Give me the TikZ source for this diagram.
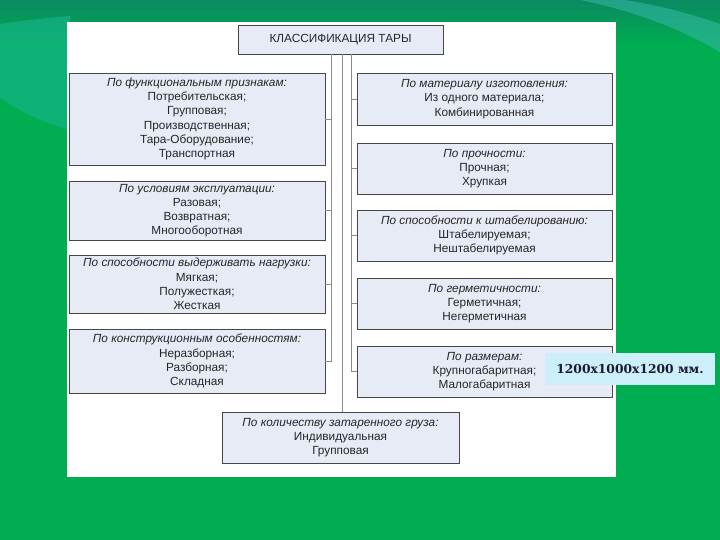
\documentclass[tikz,border=0pt]{standalone}
\usepackage{fontspec}
\setmainfont{Liberation Sans}
\newfontfamily\calloutfont{DejaVu Serif}
\definecolor{bggreen}{HTML}{00AD50}
\definecolor{topdark}{HTML}{0A8A62}
\definecolor{tealA}{HTML}{18B590}
\definecolor{tealB}{HTML}{3CBAB2}
\definecolor{boxfill}{HTML}{E7EBF5}
\definecolor{callout}{HTML}{CDEFFA}
\definecolor{linegray}{HTML}{8C8C8C}
\definecolor{callouttext}{HTML}{1A1A30}
\begin{document}
\begin{tikzpicture}[x=1pt,y=-1pt,
  box/.style={draw=black!72, line width=0.9pt, fill=boxfill, align=center,
    inner sep=0pt, text=black!85, font=\fontsize{11.8}{14.2}\selectfont},
  conn/.style={draw=linegray, line width=0.9pt},
  calloutbox/.style={fill=callout, inner sep=0pt, text=callouttext,
    font=\calloutfont\bfseries\fontsize{12.3}{14}\selectfont}]
\useasboundingbox (0,0) rectangle (720,540);
% background
\fill[bggreen] (0,0) rectangle (720,540);
\shade[top color=topdark, bottom color=bggreen] (0,0) rectangle (720,45);
\fill[tealA, opacity=0.6] (0,24) .. controls (20,21) and (45,18) .. (70,16)
  -- (70,130) .. controls (40,122) and (18,110) .. (0,98) -- cycle;
\fill[tealB, opacity=0.5] (580,0) .. controls (630,10) and (680,28) .. (720,52)
  -- (720,24) .. controls (680,10) and (645,3) .. (625,0) -- cycle;
% white panel
\fill[white] (67,22) rectangle (616,477);

% title
\node[box, minimum width=205, minimum height=29] (title) at (340.5,39.5) {КЛАССИФИКАЦИЯ ТАРЫ};

% left column
\node[box, minimum width=256, minimum height=92] (L1) at (197,119)
  {\textit{По функциональным признакам:}\\Потребительская;\\Групповая;\\Производственная;\\Тара-Оборудование;\\Транспортная};
\node[box, minimum width=256, minimum height=59] (L2) at (197,210.5)
  {\textit{По условиям эксплуатации:}\\Разовая;\\Возвратная;\\Многооборотная};
\node[box, minimum width=256, minimum height=58] (L3) at (197,284)
  {\textit{По способности выдерживать нагрузки:}\\Мягкая;\\Полужесткая;\\Жесткая};
\node[box, minimum width=256, minimum height=64] (L4) at (197,361)
  {\textit{По конструкционным особенностям:}\\Неразборная;\\Разборная;\\Складная};

% right column
\node[box, minimum width=255, minimum height=52] (R1) at (484.5,99)
  {\textit{По материалу изготовления:}\\Из одного материала;\\Комбинированная};
\node[box, minimum width=255, minimum height=51] (R2) at (484.5,168.5)
  {\textit{По прочности:}\\Прочная;\\Хрупкая};
\node[box, minimum width=255, minimum height=51] (R3) at (484.5,235.5)
  {\textit{По способности к штабелированию:}\\Штабелируемая;\\Нештабелируемая};
\node[box, minimum width=255, minimum height=51] (R4) at (484.5,303.5)
  {\textit{По герметичности:}\\Герметичная;\\Негерметичная};
\node[box, minimum width=255, minimum height=51] (R5) at (484.5,371.5)
  {\textit{По размерам:}\\Крупногабаритная;\\Малогабаритная};

% bottom
\node[box, minimum width=237, minimum height=51] (B) at (340.5,437.5)
  {\textit{По количеству затаренного груза:}\\Индивидуальная\\Групповая};

% connector rails
\coordinate (lx) at (331,0);
\coordinate (mx) at (342,0);
\coordinate (rx) at (351,0);
\draw[conn] (title.south -| lx) -- (lx |- L4.east) -- (L4.east);
\draw[conn] (title.south -| mx) -- (B.north -| mx);
\draw[conn] (title.south -| rx) -- (rx |- R5.west) -- (R5.west);
\foreach \n in {L1,L2,L3}{\draw[conn] (lx |- \n.east) -- (\n.east);}
\foreach \n in {R1,R2,R3,R4}{\draw[conn] (rx |- \n.west) -- (\n.west);}

% callout
\node[calloutbox, minimum width=170, minimum height=32] (C) at (630,369) {1200х1000х1200 мм.};
\end{tikzpicture}
\end{document}
